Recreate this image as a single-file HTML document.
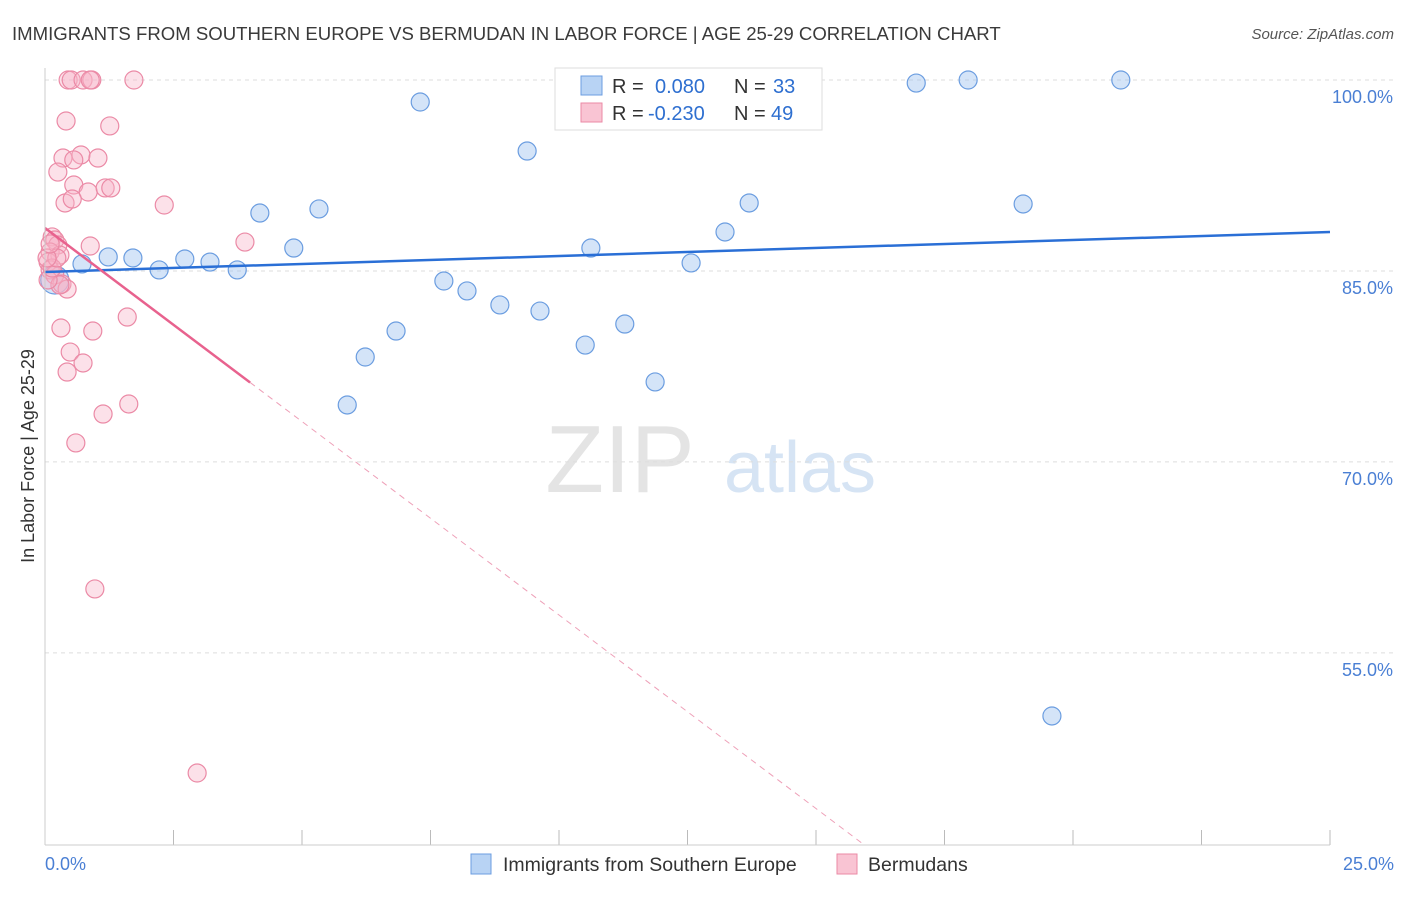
<!DOCTYPE html>
<html><head><meta charset="utf-8"><style>
body{margin:0;background:#fff;font-family:"Liberation Sans",sans-serif;}
svg text{font-family:"Liberation Sans",sans-serif;}
</style></head><body>
<svg id="c" width="1406" height="892">
<text x="12" y="40" font-size="18.6" fill="#3a3a3a">IMMIGRANTS FROM SOUTHERN EUROPE VS BERMUDAN IN LABOR FORCE | AGE 25-29 CORRELATION CHART</text>
<text x="1394" y="39" font-size="15" fill="#555" font-style="italic" text-anchor="end">Source: ZipAtlas.com</text>
<text x="620" y="492" font-size="96" fill="#e4e4e4" font-family="Liberation Serif" text-anchor="middle">ZIP</text>
<text x="800" y="492" font-size="72" fill="#d6e4f4" text-anchor="middle">atlas</text>
<g id="grid"></g><g id="pts"></g><g id="lines"></g>
<line x1="45" y1="68" x2="45" y2="845" stroke="#ccc"/>
<line x1="45" y1="845" x2="1330" y2="845" stroke="#ccc"/>
<text x="34" y="456" font-size="18" fill="#333" text-anchor="middle" transform="rotate(-90 34 456)">In Labor Force | Age 25-29</text>
<text x="45" y="870" font-size="18" fill="#4a7fd4">0.0%</text>
<text x="1394" y="870" font-size="18" fill="#4a7fd4" text-anchor="end">25.0%</text>
<g>
<rect x="555" y="68" width="267" height="62" fill="#fff" stroke="#ddd"/>
<rect x="581" y="76" width="21" height="19" fill="#b8d3f4" stroke="#6b9de0"/>
<rect x="581" y="103" width="21" height="19" fill="#f9c4d3" stroke="#eb8aa6"/>
<text y="93" font-size="20" fill="#333"><tspan x="612">R =</tspan><tspan x="655" fill="#2e6fd0">0.080</tspan><tspan x="734">N =</tspan><tspan x="773" fill="#2e6fd0">33</tspan></text>
<text y="120" font-size="20" fill="#333"><tspan x="612">R =</tspan><tspan x="648" fill="#2e6fd0">-0.230</tspan><tspan x="734">N =</tspan><tspan x="771" fill="#2e6fd0">49</tspan></text>
</g>
<g>
<rect x="471" y="854" width="20" height="20" fill="#b8d3f4" stroke="#6b9de0"/>
<text x="503" y="871" font-size="19.5" fill="#333">Immigrants from Southern Europe</text>
<rect x="837" y="854" width="20" height="20" fill="#f9c4d3" stroke="#eb8aa6"/>
<text x="868" y="871" font-size="19.5" fill="#333">Bermudans</text>
</g>
</svg>
<script>
const yTicks=[100,85,70,55];
const xTickCount=10;
const blueX=[0.19,0.72,1.23,1.71,2.22,2.72,3.21,3.74,4.18,4.84,5.33,5.88,6.23,6.83,7.30,7.76,8.21,8.85,9.38,9.63,10.51,10.62,11.28,11.87,12.20,12.57,13.23,13.70,16.95,17.96,19.03,19.59,20.93];
const blueY=[84.29,85.55,86.10,86.02,85.08,85.94,85.70,85.08,89.55,86.80,89.87,74.47,78.24,80.28,98.27,84.21,83.43,82.33,94.42,81.85,79.18,86.80,80.83,76.28,100,85.63,88.06,90.34,99.76,100,90.26,50.04,100];
const pinkX=[0.45,0.51,0.74,0.91,0.88,1.73,0.41,1.26,0.35,0.70,0.56,1.03,0.25,0.56,0.84,1.17,1.28,0.39,0.53,2.32,0.14,0.19,0.25,0.10,0.29,0.06,0.88,3.89,0.10,0.19,0.33,0.43,0.29,0.31,1.60,0.93,0.49,0.74,0.43,1.63,1.13,0.60,0.97,2.96,0.06,0.14,0.23,0.04,0.10];
const pinkY=[100,100,100,100,100,100,96.78,96.39,93.87,94.11,93.72,93.87,92.77,91.75,91.20,91.52,91.52,90.34,90.65,90.18,87.67,87.43,87.04,86.49,86.25,85.70,86.96,87.27,85.08,84.68,83.98,83.58,83.90,80.52,81.38,80.28,78.63,77.77,77.06,74.55,73.76,71.49,60.02,45.56,84.29,85.23,86.02,86.02,87.12];
const blueTrend=[84.92,88.06];
const pinkTrend=[88.37,-3.04];
const NS='http://www.w3.org/2000/svg';
const X=v=>45+v/25*1285, Y=v=>80+(100-v)*12.73;
function mk(t,a,p){const e=document.createElementNS(NS,t);for(const k in a)e.setAttribute(k,a[k]);p.appendChild(e);return e;}
const grid=document.getElementById('grid'),pts=document.getElementById('pts'),lines=document.getElementById('lines');
yTicks.forEach(v=>{
 const l=mk('line',{x1:45,x2:1394,y1:Y(v),y2:Y(v),stroke:'#ddd','stroke-dasharray':'4,4'},grid);
 
 
 const t=mk('text',{x:1393,y:Y(v)+23,'font-size':18,fill:'#4a7fd4','text-anchor':'end'},grid);
 t.textContent=v.toFixed(1)+'%';
 
 
});
for(let i=1;i<=xTickCount;i++){
 const l=mk('line',{x1:X(i*2.5),x2:X(i*2.5),y1:830,y2:845,stroke:'#bbb'},grid);
 
 
}
blueX.forEach((x,i)=>{
 const c=mk('circle',{cx:X(x),cy:Y(blueY[i]),r:i==0?14:9,fill:'rgba(160,196,240,0.45)',stroke:'#6b9de0','stroke-width':1.2},pts);
 
 
});
pinkX.forEach((x,i)=>{
 const c=mk('circle',{cx:X(x),cy:Y(pinkY[i]),r:9,fill:'rgba(248,180,200,0.4)',stroke:'#eb8aa6','stroke-width':1.2},pts);
 
 
});
let bl=mk('line',{x1:X(0),y1:Y(blueTrend[0]),x2:X(25),y2:Y(blueTrend[1]),stroke:'#2a6fd6','stroke-width':2.5},lines);


const pf=x=>pinkTrend[0]+pinkTrend[1]*x;
let pl=mk('line',{x1:X(0),y1:Y(pf(0)),x2:X(3.99),y2:Y(pf(3.99)),stroke:'#e8628e','stroke-width':2.5},lines);


const xe=(pinkTrend[0]-39.9)/-pinkTrend[1];
let pd=mk('line',{x1:X(3.99),y1:Y(pf(3.99)),x2:X(xe),y2:Y(pf(xe)),stroke:'#eea0b8','stroke-width':1,'stroke-dasharray':'6,5'},lines);


</script>
</body></html>
